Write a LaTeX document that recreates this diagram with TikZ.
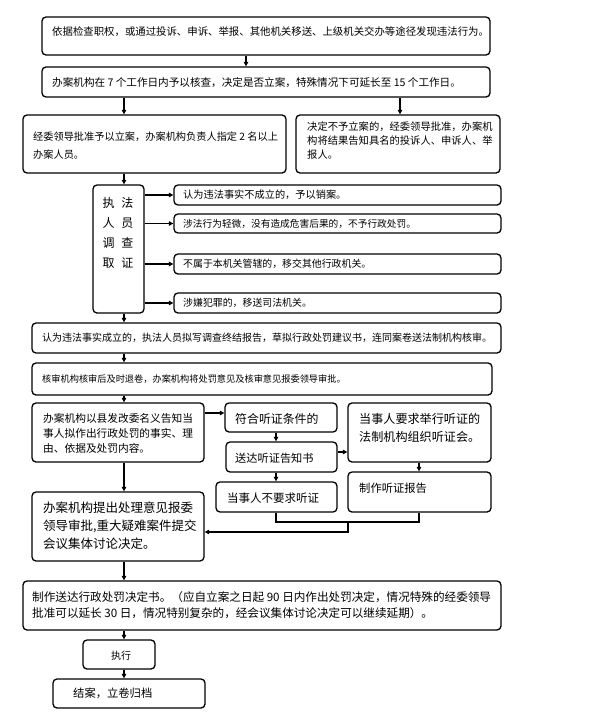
\documentclass[tikz,border=0pt]{standalone}
\usepackage{fontspec}
\newfontfamily\cjk{Noto Sans CJK SC}
\usetikzlibrary{arrows.meta}
\newcommand\bx[5]{\node[bx,minimum width={(#4-(#2))*1pt},minimum height={(#5-(#3))*1pt}] (#1) at ({(#2+#4)/2},{(#3+#5)/2}) {};}
\newcommand\fs[2]{\cjk\fontsize{#1}{#2}\selectfont}
\begin{document}
\begin{tikzpicture}[x=1pt,y=-1pt,
  bx/.style={draw,line width=1.3pt,rounded corners=4pt,inner sep=0pt},
  tx/.style={inner sep=0pt,anchor=west,align=left},
  arr/.style={line width=1.2pt,-{Triangle[length=4.5pt,width=4.5pt]}},
  ln/.style={line width=1.2pt}]
\useasboundingbox (0,0) rectangle (594,718);
% boxes
\bx{b1}{42}{17}{490}{55}
\bx{b2}{42}{67}{490}{97}
\bx{b3}{23}{115}{286}{173}
\bx{b4}{296}{115}{500}{173}
\bx{inv}{93}{185}{144}{313}
\bx{r1}{174}{185}{501}{205}
\bx{r2}{174}{214}{501}{233}
\bx{r3}{174}{254}{501}{274}
\bx{r4}{174}{293}{501}{313}
\bx{b5}{32}{323}{501}{353}
\bx{b6}{32}{363}{492}{395}
\bx{c1}{32}{403}{204}{462}
\bx{h1}{225}{403}{337}{432}
\bx{h2}{226}{442}{337}{472}
\bx{h4}{348}{403}{491}{462}
\bx{h5}{348}{472}{491}{512}
\bx{h3}{216}{482}{337}{512}
\bx{c2}{32}{492}{204}{561}
\bx{d1}{23}{581}{501}{630}
\bx{e1}{83}{640}{155}{669}
\bx{e2}{53}{679}{205}{708}
% texts
\node[tx,font=\fs{10.4}{14}] (b1t) at (52,32) {依据检查职权，或通过投诉、申诉、举报、其他机关移送、上级机关交办等途径发现违法行为。};
\node[tx,font=\fs{10.6}{14}] (b2t) at (52,83) {办案机构在 7 个工作日内予以核查，决定是否立案，特殊情况下可延长至 15 个工作日。};
\node[tx,font=\fs{10.2}{18}] (b3t) at (33,146) {经委领导批准予以立案，办案机构负责人指定 2 名以上\\办案人员。};
\node[tx,font=\fs{10.3}{14}] (b4t) at (307,141) {决定不予立案的，经委领导批准，办案机\\构将结果告知具名的投诉人、申诉人、举\\报人。};
\node[inner sep=0pt,align=center,font=\fs{12}{20}] (invt) at (118,233) {执\hspace{7pt}法\\人\hspace{7pt}员\\调\hspace{7pt}查\\取\hspace{7pt}证};
\node[tx,font=\fs{10.2}{14}] (r1t) at (183,195) {认为违法事实不成立的，予以销案。};
\node[tx,font=\fs{9.7}{14}] (r2t) at (183,223.5) {涉法行为轻微，没有造成危害后果的，不予行政处罚。};
\node[tx,font=\fs{9.9}{14}] (r3t) at (183,264) {不属于本机关管辖的，移交其他行政机关。};
\node[tx,font=\fs{9.9}{14}] (r4t) at (183,303) {涉嫌犯罪的，移送司法机关。};
\node[tx,font=\fs{10}{14}] (b5t) at (42,338) {认为违法事实成立的，执法人员拟写调查终结报告，草拟行政处罚建议书，连同案卷送法制机构核审。};
\node[tx,font=\fs{9.2}{14}] (b6t) at (42,379) {核审机构核审后及时退卷，办案机构将处罚意见及核审意见报委领导审批。};
\node[tx,font=\fs{10.7}{15}] (c1t) at (43,433) {办案机构以县发改委名义告知当\\事人拟作出行政处罚的事实、理\\由、依据及处罚内容。};
\node[tx,font=\fs{11.9}{14}] (h1t) at (235,419) {符合听证条件的};
\node[tx,font=\fs{11.2}{14}] (h2t) at (235,458) {送达听证告知书};
\node[tx,font=\fs{12.1}{18}] (h4t) at (359,428) {当事人要求举行听证的\\法制机构组织听证会。};
\node[tx,font=\fs{11.3}{14}] (h5t) at (359,488) {制作听证报告};
\node[tx,font=\fs{11.5}{14}] (h3t) at (227,498) {当事人不要求听证};
\node[tx,font=\fs{12.5}{18}] (c2t) at (43,526) {办案机构提出处理意见报委\\领导审批,重大疑难案件提交\\会议集体讨论决定。};
\node[tx,font=\fs{11.6}{16}] (d1t) at (32,605) {制作送达行政处罚决定书。（应自立案之日起 90 日内作出处罚决定，情况特殊的经委领导\\批准可以延长 30 日，情况特别复杂的，经会议集体讨论决定可以继续延期）。};
\node[inner sep=0pt,font=\fs{10}{14}] (e1t) at (121,656) {执行};
\node[tx,font=\fs{11.3}{14}] (e2t) at (73,693) {结案，立卷归档};
% connectors
\draw[arr] (b1.south -| 246,0) -- (b2.north -| 246,0);
\draw[arr] (b2.south -| 124,0) -- (b3.north -| 124,0);
\draw[arr] (b2.south -| 400,0) -- (b4.north -| 400,0);
\draw[arr] (b3.south -| 124,0) -- (inv.north -| 124,0);
\draw[arr] (inv.east |- r1) -- (r1.west);
\draw[arr] (inv.east |- r2) -- (r2.west);
\draw[arr] (inv.east |- r3) -- (r3.west);
\draw[arr] (inv.east |- r4) -- (r4.west);
\draw[arr] (inv.south -| 124,0) -- (b5.north -| 124,0);
\draw[arr] (b5.south -| 124,0) -- (b6.north -| 124,0);
\draw[arr] (b6.south -| 124,0) -- (c1.north -| 124,0);
\draw[arr] (c1.east |- 0,413) -- (h1.west |- 0,413);
\draw[arr] (h1.south -| 276,0) -- (h2.north -| 276,0);
\draw[arr] (h2.south -| 276,0) -- (h3.north -| 276,0);
\draw[arr] (h2.east |- 0,452) -- (h4.west |- 0,452);
\draw[arr] (h4.south -| 419,0) -- (h5.north -| 419,0);
\draw[ln] (h3.south -| 276,0) -- (276,522) -- (419,522) -- (h5.south -| 419,0);
\coordinate (mj) at (348,522);
\draw[arr] (mj) -- (348,532) -- (c2.east |- 0,532);
\draw[arr] (c1.south -| 124,0) -- (c2.north -| 124,0);
\draw[arr] (c2.south -| 124,0) -- (d1.north -| 124,0);
\draw[arr] (d1.south -| 124,0) -- (e1.north -| 124,0);
\draw[arr] (e1.south -| 124,0) -- (e2.north -| 124,0);
\end{tikzpicture}
\end{document}
